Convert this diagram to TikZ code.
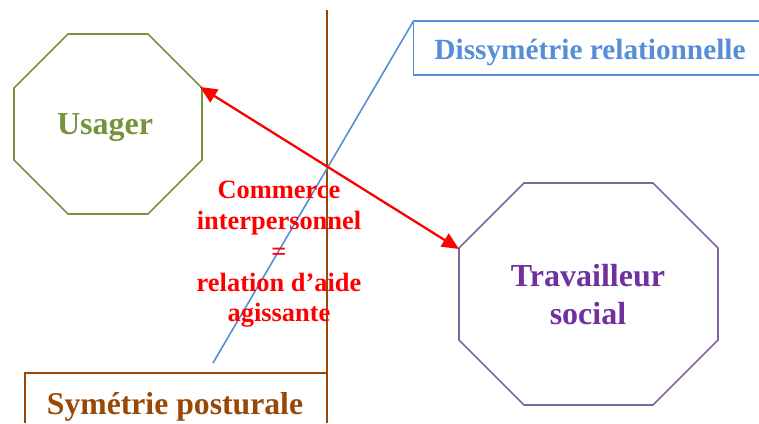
\documentclass[tikz,border=0pt]{standalone}
\usepackage{fontspec}
\setmainfont{Liberation Serif}
\definecolor{ogreen}{HTML}{76923C}
\definecolor{opurple}{HTML}{7030A0}
\definecolor{lpurple}{HTML}{8064A2}
\definecolor{oblue}{HTML}{558ED5}
\definecolor{obrown}{HTML}{984806}
\usetikzlibrary{arrows.meta}
\tikzset{lab/.style={inner sep=0pt,align=center},
 linework/.style={line width=1.6pt},
 arr/.style={red,line width=2.3pt,{Triangle[length=17pt,width=15pt]}-{Triangle[length=17pt,width=15pt]}}}
\begin{document}
\begin{tikzpicture}[x=1pt,y=-1pt]
\useasboundingbox (0,0) rectangle (759,423);
\draw[ogreen,linework] (68,34)--(148,34)--(202,88)--(202,160)--(148,214)--(68,214)--(14,160)--(14,88)--cycle;
\coordinate (uR) at (200,87);
\draw[lpurple,linework] (524,183)--(653,183)--(718,248)--(718,340)--(653,405)--(524,405)--(459,340)--(459,248)--cycle;
\coordinate (tL) at (459,249);
\coordinate (ltop) at (327,10);
\coordinate (lbot) at (327,423);
\draw[obrown,linework] (ltop)--(lbot);
\coordinate (bTL) at (413.5,21);
\coordinate (bBL) at (213,363);
\draw[oblue,linework] (759,21)--(bTL)--(413.5,75)--(759,75);
\draw[oblue,linework] (bTL)--(bBL);
\draw[obrown,linework] (25,423)--(25,373)--(327,373);
\draw[arr] (uR)--(tL);
\node[lab,text=ogreen,font=\bfseries\fontsize{32pt}{38pt}\selectfont] (u) at (105,128) {Usager};
\node[lab,text=opurple,font=\bfseries\fontsize{32pt}{38pt}\selectfont] (t) at (588,295) {Travailleur\\social};
\node[lab,text=oblue,font=\bfseries\fontsize{29.3pt}{34pt}\selectfont] (d) at (590,52) {Dissymétrie relationnelle};
\node[lab,text=obrown,font=\bfseries\fontsize{31.7pt}{38pt}\selectfont] (sp) at (175,406.5) {Symétrie posturale};
\node[lab,text=red,font=\bfseries\fontsize{26.4pt}{30.7pt}\selectfont] (c) at (279,254.5) {Commerce\\interpersonnel\\=\\relation d’aide\\agissante};
\end{tikzpicture}
\end{document}
